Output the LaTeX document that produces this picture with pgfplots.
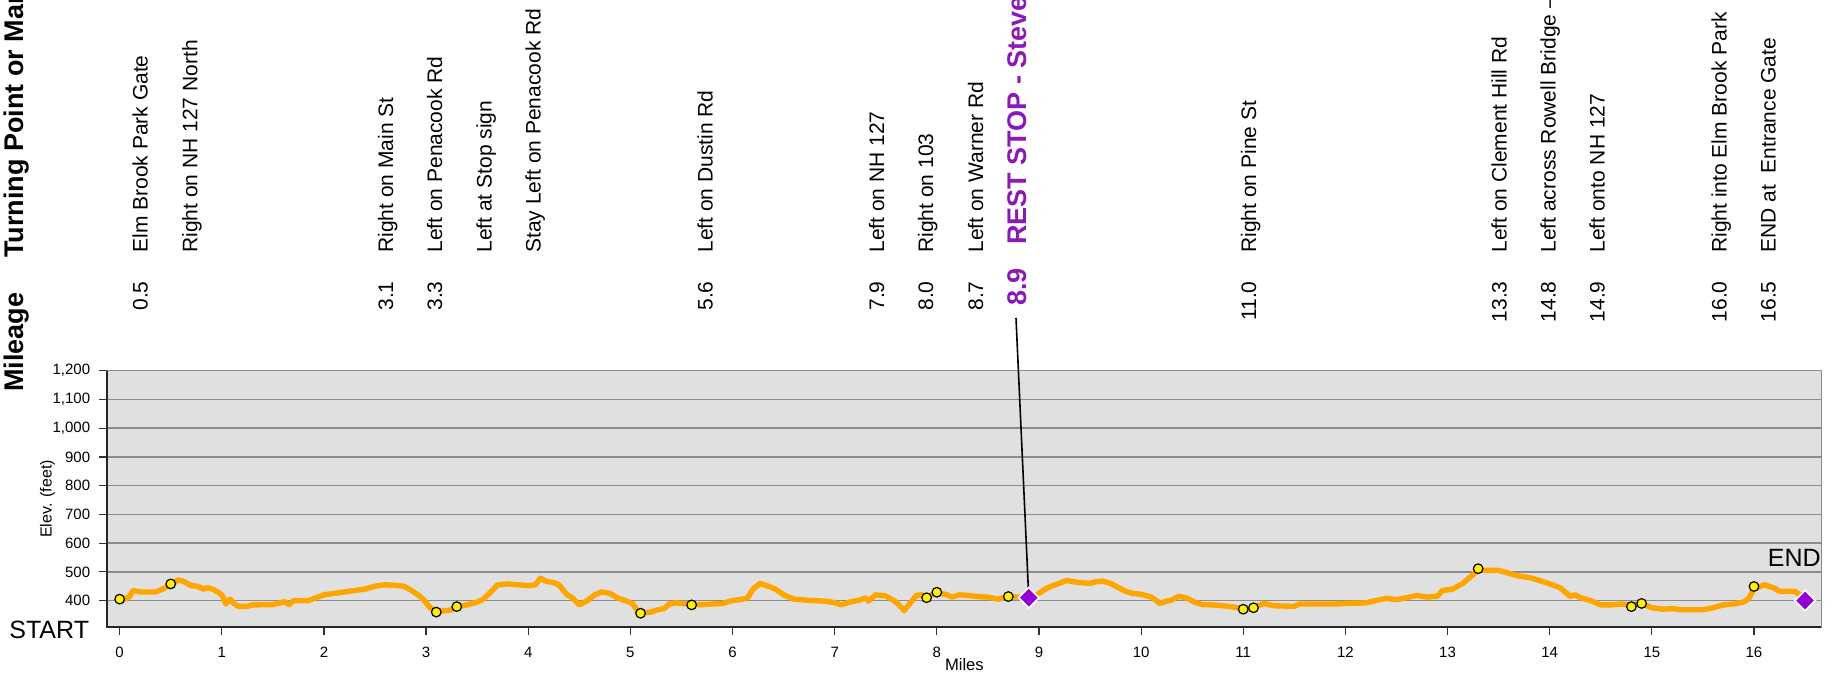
\documentclass[border=0pt]{standalone}
\usepackage{fontspec}
\setmainfont{Liberation Sans}
\usepackage{pgfplots}
\pgfplotsset{compat=1.18}

\definecolor{bggray}{HTML}{E0E0E0}
\definecolor{gridgray}{HTML}{8C8C8C}
\definecolor{route}{HTML}{FFA500}
\definecolor{stoppurple}{HTML}{9400D3}
\definecolor{textpurple}{HTML}{8B1AB5}

\newcommand\fs[1]{\fontsize{#1}{#1}\selectfont}
% one cue column: baseline x (px), mileage, turn
\newcommand\cue[3]{%
  \node[rotate=90, anchor=base east, inner sep=0pt, font=\fs{10.5}] at (#1,281) {#2};
  \node[rotate=90, anchor=base west, inner sep=0pt, font=\fs{10.5}] at (#1,253) {#3};}

\pgfplotstableread{
mi elev
0 400
0.05 405
0.1 415
0.13 435
0.2 430
0.35 430
0.42 440
0.5 455
0.57 472
0.62 468
0.7 452
0.76 450
0.82 440
0.86 445
0.92 438
0.97 428
1.01 415
1.04 388
1.08 405
1.12 390
1.16 380
1.25 380
1.3 385
1.5 386
1.58 393
1.62 396
1.66 386
1.7 400
1.85 400
1.92 410
2.0 420
2.1 425
2.2 430
2.3 435
2.4 440
2.5 450
2.6 455
2.7 453
2.78 450
2.85 437
2.92 420
2.97 405
3.04 375
3.1 362
3.2 365
3.25 368
3.3 378
3.4 385
3.5 395
3.55 402
3.62 425
3.7 455
3.8 458
3.9 455
4.0 452
4.07 455
4.12 478
4.17 468
4.25 462
4.3 455
4.38 420
4.43 410
4.5 385
4.58 400
4.65 420
4.72 430
4.8 425
4.88 408
4.95 400
5.02 390
5.07 365
5.1 356
5.2 360
5.27 368
5.33 372
5.38 388
5.45 392
5.55 388
5.6 385
5.7 386
5.9 390
6.0 400
6.1 405
6.15 410
6.2 440
6.27 460
6.35 450
6.42 440
6.5 420
6.6 405
6.7 402
6.8 400
6.9 398
7.0 393
7.06 385
7.15 395
7.25 402
7.3 410
7.33 398
7.4 420
7.5 416
7.58 400
7.63 385
7.68 365
7.74 392
7.8 418
7.85 420
7.9 410
7.95 420
8.0 428
8.1 420
8.15 412
8.22 420
8.3 418
8.4 414
8.5 412
8.6 405
8.65 410
8.7 414
8.8 412
8.9 410
8.98 420
9.05 438
9.12 450
9.2 460
9.27 470
9.35 465
9.42 462
9.5 460
9.55 465
9.62 468
9.7 460
9.78 445
9.85 432
9.92 425
10.0 422
10.1 412
10.15 400
10.18 390
10.25 398
10.3 402
10.37 415
10.45 408
10.52 395
10.6 386
10.7 385
10.8 382
10.9 378
11.0 370
11.05 370
11.1 375
11.2 390
11.3 382
11.5 380
11.55 388
11.9 388
12.0 390
12.2 392
12.3 400
12.4 408
12.5 403
12.6 410
12.7 418
12.8 412
12.9 415
12.95 435
13.05 440
13.15 460
13.3 505
13.35 505
13.5 505
13.6 495
13.7 485
13.8 480
13.9 470
14.0 458
14.1 445
14.15 430
14.2 415
14.25 420
14.3 410
14.4 400
14.5 385
14.6 385
14.7 388
14.8 385
14.9 390
15.0 375
15.1 370
15.2 372
15.3 368
15.5 368
15.6 375
15.7 385
15.8 388
15.9 395
15.95 408
16.0 440
16.1 455
16.2 443
16.25 432
16.4 432
16.45 420
16.5 400
}\profile

\pgfplotstableread{
mi elev
0 405
0.5 458
3.1 360
3.3 379
5.1 356
5.6 385
7.9 410
8.0 429
8.7 414
11.0 370
11.1 375
13.3 511
14.8 379
14.9 390
16.0 449
}\turns

\pgfplotstableread{
mi elev
8.9 410
16.5 400
}\stops

\begin{document}
\begin{tikzpicture}
\path[use as bounding box] (-53.7pt,-24.35pt) rectangle (862.8pt,313.65pt);
\clip (-53.7pt,-24.35pt) rectangle (862.8pt,313.65pt);

\begin{axis}[
  at={(0pt,0pt)}, anchor=south west,
  scale only axis, width=857pt, height=128.3pt,
  xmin=-0.12, xmax=16.66, ymin=307, ymax=1200,
  xtick={0,...,16}, ytick={400,500,...,1200},
  ymajorgrids, grid style={gridgray, line width=0.8pt},
  axis background/.style={fill=bggray},
  axis line style={gridgray, line width=0.8pt},
  tick pos=left, tick align=outside, major tick length=4pt,
  tick style={black!80, line width=0.6pt},
  /pgf/number format/assume math mode=true,
  /pgf/number format/1000 sep={,},
  tick label style={font=\fs{7.5}},
  xticklabel style={inner sep=0pt, yshift=-5.85pt},
  yticklabel style={inner sep=0pt, xshift=-4.45pt},
  xlabel={Miles}, ylabel={Elev. (feet)},
  every axis x label/.style={at={(rel axis cs:0.5,0)}, yshift=-18.85pt, anchor=center, font=\fs{8.3}},
  every axis y label/.style={at={(rel axis cs:0,0.5)}, xshift=-29.95pt, rotate=90, anchor=center, font=\fs{8}},
  clip=false,
]
\draw[black!85, line width=1pt] (rel axis cs:0,1) -- (rel axis cs:0,0) -- (rel axis cs:1,0);
\addplot[route, line width=2.7pt, line join=round, line cap=round, mark=none] table[x=mi, y=elev] {\profile};
\addplot[only marks, mark=*, mark size=2.4pt, mark options={fill=yellow, draw=black, line width=0.6pt}] table[x=mi, y=elev] {\turns};
\coordinate (rs) at (axis cs:8.9,410);
\end{axis}

\begin{scope}[x=0.5pt, y=-0.5pt, shift={(-107.4,-627.3)}]
  \draw[black, line width=0.8pt] (1016,318) -- (rs);
  % headings
  \node[rotate=90, anchor=base west, inner sep=0pt, font=\fs{13.5}\bfseries] at (24,392) {Mileage};
  \node[rotate=90, anchor=base west, inner sep=0pt, font=\fs{13.5}\bfseries] at (24,258) {Turning Point or Markers};
  % cue sheet
  \cue{147.5}{0.5}{Elm Brook Park Gate}
  \cue{197.5}{}{Right on NH 127 North}
  \cue{393}{3.1}{Right on Main St}
  \cue{442}{3.3}{Left on Penacook Rd}
  \cue{491.5}{}{Left at Stop sign}
  \cue{540.5}{}{Stay Left on Penacook Rd}
  \cue{712.5}{5.6}{Left on Dustin Rd}
  \cue{884}{7.9}{Left on NH 127}
  \cue{933}{8.0}{Right on 103}
  \cue{983}{8.7}{Left on Warner Rd}
  \node[rotate=90, anchor=base east, inner sep=0pt, font=\fs{13.5}\bfseries, text=textpurple] at (1026.7,268) {8.9};
  \node[rotate=90, anchor=base west, inner sep=0pt, font=\fs{13.5}\bfseries, text=textpurple] at (1026.7,245) {REST STOP - Stevens};
  \cue{1256}{11.0}{Right on Pine St}
  \cue{1506.5}{13.3}{Left on Clement Hill Rd}
  \cue{1555.5}{14.8}{Left across Rowell Bridge --}
  \cue{1604.5}{14.9}{Left onto NH 127}
  \cue{1726.5}{16.0}{Right into Elm Brook Park}
  \cue{1775.5}{16.5}{END at~ Entrance Gate}
  % start / end
  \node[anchor=base west, inner sep=0pt, font=\fs{12.5}] at (9,638) {START};
  \node[anchor=base east, inner sep=0pt, font=\fs{12.5}] at (1821,566) {END};
\end{scope}

\begin{axis}[
  at={(0pt,0pt)}, anchor=south west,
  scale only axis, width=857pt, height=128.3pt,
  xmin=-0.12, xmax=16.66, ymin=307, ymax=1200,
  hide axis, clip=false,
]
\addplot[only marks, mark=square*, mark size=3.6pt, mark options={rotate=45, fill=stoppurple, draw=white, line width=0.8pt}] table[x=mi, y=elev] {\stops};
\end{axis}
\end{tikzpicture}
\end{document}
